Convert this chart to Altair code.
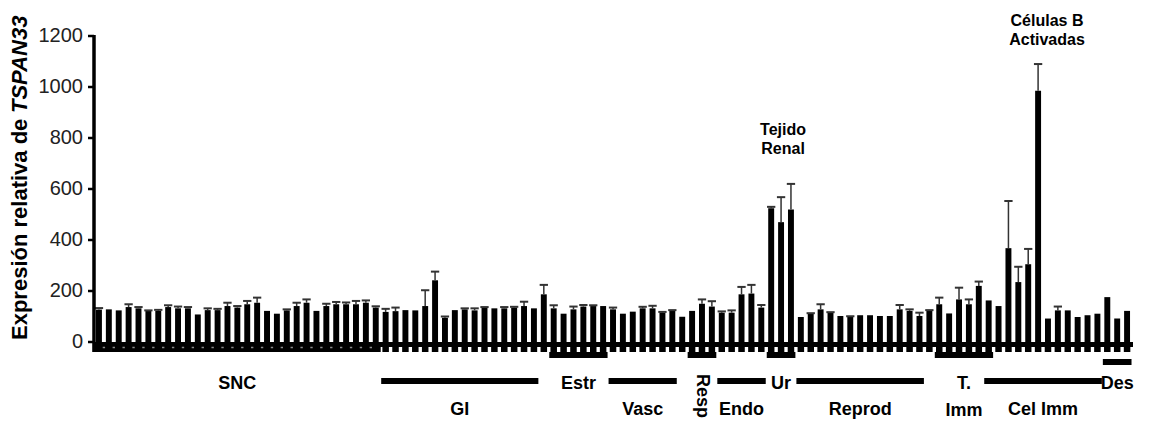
import altair as alt
import pandas as pd

# ---------------- data ----------------
values = [127, 128, 124, 137, 132, 122, 122, 137, 132, 132,
          108, 125, 125, 141, 135, 148, 154, 122, 111, 124,
          141, 154, 122, 141, 148, 148, 148, 154, 135,
          118, 121, 125, 124, 141, 242, 95, 125, 128, 124, 135, 132, 132, 135, 141, 132,
          187, 132, 111, 128, 139, 141, 141,
          128, 111, 119, 132, 132, 115, 122, 99,
          122, 150, 139,
          115, 115, 187, 190, 135,
          525, 470, 520,
          98, 111, 128, 115, 102, 98, 105, 105, 102, 102, 128, 122, 102, 122,
          148, 112, 167, 148, 220, 163,
          141, 368, 235, 305, 985, 92, 124, 124, 98, 105, 111,
          176, 92, 122]

errors = [6, 0, 0, 11, 5, 2, 4, 7, 7, 5,
          0, 7, 5, 13, 6, 13, 20, 0, 0, 4,
          13, 13, 0, 9, 9, 7, 13, 9, 5,
          12, 14, 0, 0, 62, 34, 5, 0, 4, 8, 2, 0, 5, 3, 17, 0,
          37, 12, 0, 11, 6, 3, 0,
          7, 0, 0, 6, 10, 3, 3, 0,
          0, 17, 21,
          5, 9, 29, 34, 10,
          5, 98, 100,
          0, 2, 20, 2, 0, 3, 0, 0, 0, 0, 17, 6, 13, 3,
          26, 0, 46, 19, 17, 0,
          0, 185, 60, 60, 105, 0, 15, 0, 0, 0, 0,
          0, 0, 0]

group_labels = ["SNC", "GI", "Estr", "Vasc", "Resp", "Endo", "Ur", "Reprod", "T.\nImm", "Cel Imm", "Des"]
group_start = [0, 29, 46, 52, 60, 63, 68, 71, 85, 90, 102]
group_end = [28, 44, 51, 58, 62, 67, 70, 83, 90, 101, 104]

ann_text = ["Tejido\nRenal", "Células B\nActivadas"]
ann_x = [69.2, 95.9]
ann_y = [830, 1260]

y_ticks = [0, 200, 400, 600, 800, 1000, 1200]
y_title_main = "Expresión relativa de"
y_title_gene = "TSPAN33"

# ---------------- layout (pixels inside the plot area) ----------------
FONT = "Liberation Sans"
W, H = 1038, 306
line_kind = {"SNC": "none", "GI": "lower", "Estr": "upper", "Vasc": "lower", "Resp": "upper",
             "Endo": "lower", "Ur": "upper", "Reprod": "lower", "T.\nImm": "upper",
             "Cel Imm": "lower", "Des": "des"}
line_px = {"upper": 319, "lower": 345, "des": 326}
label_kind = {"SNC": "upper", "GI": "lower", "Estr": "upper", "Vasc": "lower", "Resp": "rot",
              "Endo": "lower", "Ur": "upper", "Reprod": "lower", "T.\nImm": "upper",
              "Cel Imm": "lower", "Des": "upper"}
label_px = {"upper": 348, "lower": 374, "rot": 360}

bars = pd.DataFrame({"i": list(range(len(values))), "value": values, "err": errors})
bars["top"] = bars["value"] + bars["err"]
bars["x0"] = bars["i"] - 0.3
bars["x1"] = bars["i"] + 0.3
bars["cx0"] = bars["i"] - 0.42
bars["cx1"] = bars["i"] + 0.42
bars["tx0"] = bars["i"] - 0.33
bars["tx1"] = bars["i"] + 0.33
bars["d0"] = bars["i"] + 0.38
bars["d1"] = bars["i"] + 0.62

groups = pd.DataFrame({"name": group_labels, "start": group_start, "end": group_end})
groups["gx0"] = groups["start"] - 0.45
groups["gx1"] = groups["end"] + 0.45
groups["sx0"] = groups["start"] - 0.62
groups["sx1"] = groups["end"] + 0.5
groups["gxc"] = (groups["start"] + groups["end"]) / 2
groups["lk"] = groups["name"].map(line_kind)
groups["tk"] = groups["name"].map(label_kind)

anns = pd.DataFrame({"t": ann_text, "x": ann_x, "y": ann_y})
ticks = pd.DataFrame({"v": y_ticks})

X = alt.Scale(domain=[-0.4, 104.6], nice=False, zero=False)
Y = alt.Scale(domain=[0, 1200], nice=False)

base = alt.Chart(bars)

bar_layer = base.mark_rect(color="black").encode(
    x=alt.X("x0:Q", scale=X, axis=None),
    x2="x1:Q",
    y=alt.Y("value:Q", scale=Y, axis=None),
    y2=alt.datum(0),
)

whisk = base.transform_filter("datum.err > 0").mark_rule(color="#333", strokeWidth=1.5).encode(
    x=alt.X("i:Q", scale=X, axis=None),
    y=alt.Y("value:Q", scale=Y, axis=None),
    y2="top:Q",
)
caps = base.transform_filter("datum.err > 0").mark_rule(color="#333", strokeWidth=2).encode(
    x=alt.X("cx0:Q", scale=X, axis=None),
    x2="cx1:Q",
    y=alt.Y("top:Q", scale=Y, axis=None),
)

# y axis drawn by hand: domain line, ticks, labels
one = alt.Chart(pd.DataFrame({"k": [0]}))
y_domain = one.mark_rule(color="black", strokeWidth=3.5).encode(
    x=alt.value(-1), y=alt.value(-1), y2=alt.value(316))
y_tick_marks = alt.Chart(ticks).mark_rule(color="black", strokeWidth=2.5).encode(
    x=alt.value(-7), x2=alt.value(-1), y=alt.Y("v:Q", scale=Y, axis=None))
y_tick_labels = alt.Chart(ticks).mark_text(
    font=FONT, fontSize=20, color="#222", align="right", baseline="middle").encode(
    x=alt.value(-12), y=alt.Y("v:Q", scale=Y, axis=None), text="v:Q")

band = one.mark_rect(color="black").encode(
    x=alt.value(-2), x2=alt.value(W), y=alt.value(306), y2=alt.value(311))

teeth = base.transform_filter("datum.i >= 29").mark_rect(color="black").encode(
    x=alt.X("tx0:Q", scale=X, axis=None), x2="tx1:Q",
    y=alt.value(311), y2=alt.value(316))

snc = alt.Chart(groups).transform_filter("datum.name == 'SNC'").mark_rect(color="black").encode(
    x=alt.X("sx0:Q", scale=X, axis=None), x2="sx1:Q",
    y=alt.value(306), y2=alt.value(316))

dashes = base.transform_filter("datum.i < 28").mark_rule(color="#8a8a8a", strokeWidth=1.5).encode(
    x=alt.X("d0:Q", scale=X, axis=None), x2="d1:Q", y=alt.value(311.5))

line_layers = []
for kind, px in line_px.items():
    line_layers.append(
        alt.Chart(groups).transform_filter(f"datum.lk == '{kind}'").mark_rect(color="black").encode(
            x=alt.X("gx0:Q", scale=X, axis=None), x2="gx1:Q",
            y=alt.value(px - 3), y2=alt.value(px + 3)))

label_layers = []
for kind, px in label_px.items():
    label_layers.append(
        alt.Chart(groups).transform_filter(f"datum.tk == '{kind}'").mark_text(
            font=FONT, fontSize=18, fontWeight="bold", color="black", lineBreak="\n",
            lineHeight=27, baseline="middle", align="center",
            angle=90 if kind == "rot" else 0).encode(
            x=alt.X("gxc:Q", scale=X, axis=None),
            y=alt.value(px),
            text="name:N"))

ann = alt.Chart(anns).mark_text(
    font=FONT, fontSize=16, fontWeight="bold", color="black", lineBreak="\n",
    lineHeight=19, baseline="middle", align="center").encode(
    x=alt.X("x:Q", scale=X, axis=None),
    y=alt.Y("y:Q", scale=Y, axis=None),
    text="t:N")

t_main = alt.Chart(pd.DataFrame({"t": [y_title_main]})).mark_text(
    font=FONT, fontSize=22, fontWeight="bold", color="black", angle=270,
    align="left", baseline="middle").encode(
    x=alt.value(-75), y=alt.value(304), text="t:N")
t_gene = alt.Chart(pd.DataFrame({"t": [y_title_gene]})).mark_text(
    font=FONT, fontSize=22, fontWeight="bold", fontStyle="italic", color="black", angle=270,
    align="left", baseline="middle").encode(
    x=alt.value(-75), y=alt.value(77), text="t:N")

chart = alt.layer(
    band, snc, dashes, teeth, bar_layer, whisk, caps,
    y_domain, y_tick_marks, y_tick_labels,
    *line_layers, *label_layers, ann, t_main, t_gene
).properties(
    width=W, height=H,
    autosize=alt.AutoSizeParams(type="none"),
    padding={"left": 87, "top": 28, "right": 10, "bottom": 80},
).configure_view(stroke=None)

chart.save("out.html", embed_options={"renderer": "svg", "actions": False})
